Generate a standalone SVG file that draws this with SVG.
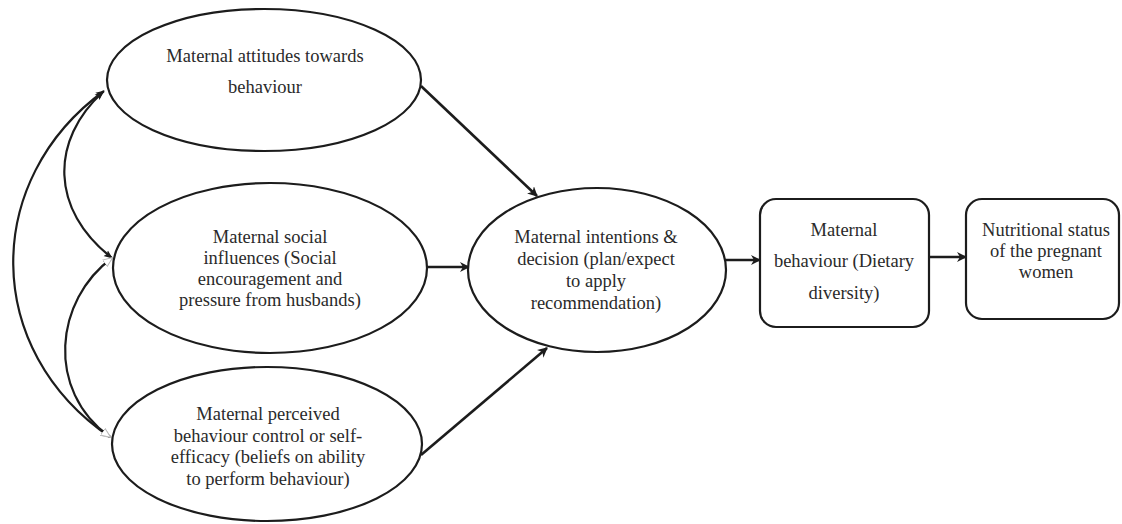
<svg xmlns="http://www.w3.org/2000/svg" width="1122" height="524" viewBox="0 0 1122 524">
<style>
.n{fill:#fff;stroke:#1c1c1c;stroke-width:2.2}
.t{font-family:"Liberation Serif","Times New Roman",serif;font-size:18.5px;fill:#2a2a2a;text-anchor:middle}
.c{fill:none;stroke:#1c1c1c;stroke-width:2.6}
.cv{fill:none;stroke:#1c1c1c;stroke-width:2.2}
</style>
<defs>
<marker id="ah" viewBox="0 0 10 10" refX="9" refY="5" markerWidth="10" markerHeight="10" markerUnits="userSpaceOnUse" orient="auto">
<path d="M0,0 L10,5 L0,10 L3,5 Z" fill="#1c1c1c"/>
</marker>
<marker id="sh" viewBox="0 0 10 10" refX="9" refY="5" markerWidth="9" markerHeight="9" markerUnits="userSpaceOnUse" orient="auto-start-reverse">
<path d="M0,1 L10,5 L0,9 L2,5 Z" fill="#1c1c1c"/>
</marker>
<marker id="gh" viewBox="0 0 10 10" refX="9" refY="5" markerWidth="10" markerHeight="10" markerUnits="userSpaceOnUse" orient="auto-start-reverse">
<path d="M0,1 L10,5 L0,9 Z" fill="#fff" stroke="#bbb" stroke-width="1"/>
</marker>
</defs>
<rect width="1122" height="524" fill="#fff"/>
<g id="connectors">
<path class="cv" d="M110,437 C-18,350 -18,180 104,91" marker-end="url(#sh)" marker-start="url(#gh)"/>
<path class="cv" d="M103,92 C50,140 50,210 112,258" marker-start="url(#sh)" marker-end="url(#sh)"/>
<path class="cv" d="M112,258 C55,300 45,390 110,437" marker-start="url(#gh)" marker-end="url(#gh)"/>
<line class="c" x1="421" y1="86" x2="537" y2="196" marker-end="url(#ah)"/>
<line class="c" x1="427" y1="267" x2="469" y2="267" marker-end="url(#ah)"/>
<line class="c" x1="421" y1="455" x2="547" y2="348" marker-end="url(#ah)"/>
<line class="c" x1="725" y1="260" x2="760" y2="260" marker-end="url(#ah)"/>
<line class="c" x1="929" y1="257" x2="966" y2="257" marker-end="url(#ah)"/>
</g>
<g id="attitudes">
<ellipse class="n" cx="264" cy="80" rx="157" ry="71"/>
<text class="t" x="265" y="62">Maternal attitudes towards</text>
<text class="t" x="265" y="93">behaviour</text>
</g>
<g id="social">
<ellipse class="n" cx="270" cy="268" rx="157" ry="85"/>
<text class="t" x="270" y="243">Maternal social</text>
<text class="t" x="270" y="264">influences (Social</text>
<text class="t" x="270" y="285">encouragement and</text>
<text class="t" x="270" y="306">pressure from husbands)</text>
</g>
<g id="perceived">
<ellipse class="n" cx="267" cy="444" rx="155" ry="77"/>
<text class="t" x="268" y="420">Maternal perceived</text>
<text class="t" x="268" y="442">behaviour control or self-</text>
<text class="t" x="268" y="463">efficacy (beliefs on ability</text>
<text class="t" x="268" y="485">to perform behaviour)</text>
</g>
<g id="intentions">
<ellipse class="n" cx="597" cy="270" rx="129" ry="82"/>
<text class="t" x="596" y="243">Maternal intentions &amp;</text>
<text class="t" x="596" y="265">decision (plan/expect</text>
<text class="t" x="596" y="287">to apply</text>
<text class="t" x="596" y="309">recommendation)</text>
</g>
<g id="behaviour">
<rect class="n" x="760" y="199" width="169" height="128" rx="16"/>
<text class="t" x="844" y="236">Maternal</text>
<text class="t" x="844" y="267">behaviour (Dietary</text>
<text class="t" x="844" y="299">diversity)</text>
</g>
<g id="nutritional">
<rect class="n" x="966" y="199" width="153" height="120" rx="16"/>
<text class="t" x="1046" y="236">Nutritional status</text>
<text class="t" x="1046" y="257">of the pregnant</text>
<text class="t" x="1046" y="278">women</text>
</g>
</svg>
